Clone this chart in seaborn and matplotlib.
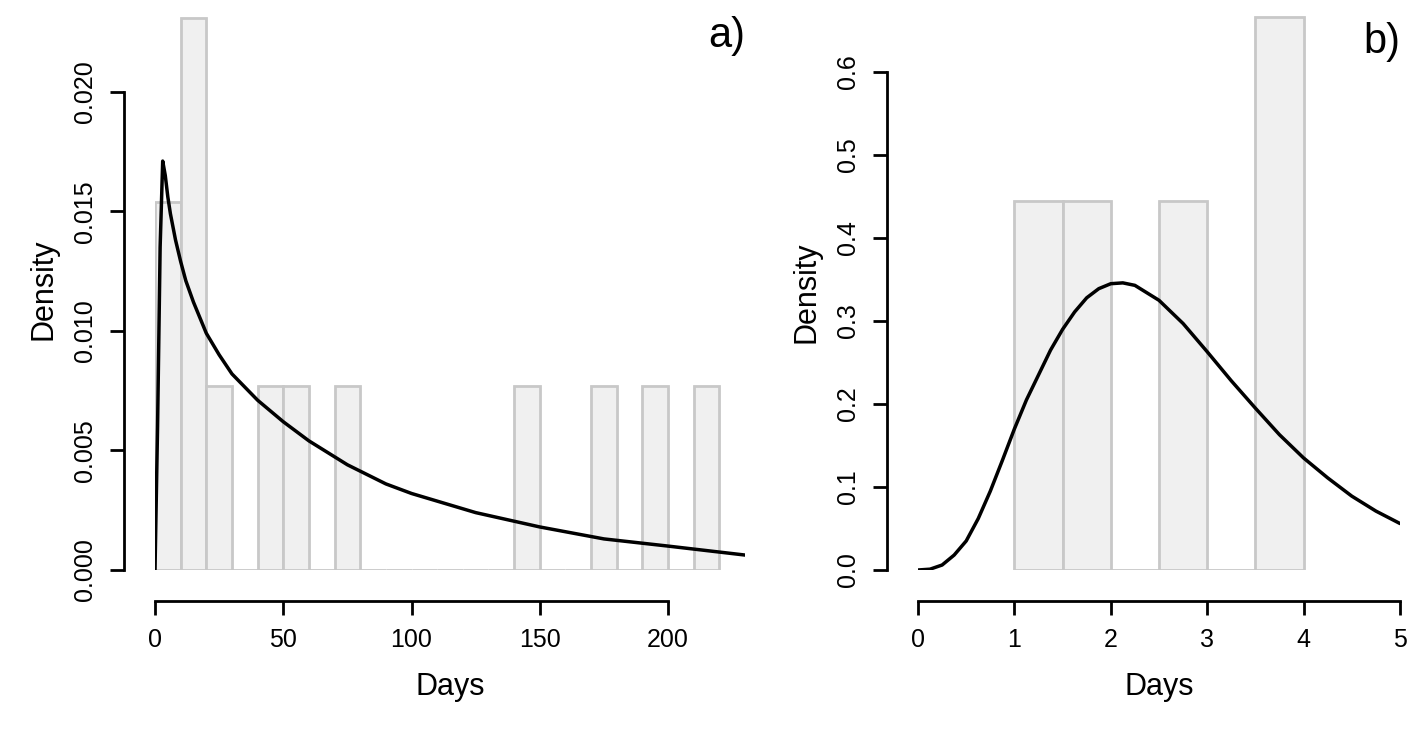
import numpy as np
import matplotlib
matplotlib.use("Agg")
import matplotlib.pyplot as plt
import seaborn as sns

# panel a: observations (days), bins of width 10
days_a = [5, 5, 15, 15, 15, 25, 45, 55, 75, 145, 175, 195, 215]
bins_a = np.arange(0, 230, 10)
curve_a_x = [0, 1, 2, 3, 4, 5, 6, 8, 10, 12, 15, 20, 25, 30, 40, 50, 60, 75, 90, 100,
             125, 150, 175, 200, 232]
curve_a_y = [0.0, 0.006, 0.0135, 0.0171, 0.0165, 0.0156, 0.0149, 0.0138, 0.0129, 0.0121,
             0.0112, 0.0099, 0.0090, 0.0082, 0.0071, 0.0062, 0.0054, 0.0044, 0.0036, 0.0032,
             0.0024, 0.0018, 0.0013, 0.0010, 0.0006]

# panel b: observations (days), bins of width 0.5
days_b = [1.25, 1.25, 1.75, 1.75, 2.75, 2.75, 3.75, 3.75, 3.75]
bins_b = np.arange(1.0, 4.5, 0.5)
curve_b_x = [0, 0.125, 0.25, 0.375, 0.5, 0.625, 0.75, 0.875, 1, 1.125, 1.25, 1.375, 1.5,
             1.625, 1.75, 1.875, 2, 2.125, 2.25, 2.5, 2.75, 3, 3.25, 3.5, 3.75, 4, 4.25,
             4.5, 4.75, 5]
curve_b_y = [0.0, 0.001, 0.006, 0.018, 0.035, 0.062, 0.095, 0.132, 0.17, 0.205, 0.235,
             0.265, 0.29, 0.311, 0.328, 0.339, 0.345, 0.346, 0.343, 0.325, 0.297,
             0.263, 0.228, 0.195, 0.163, 0.135, 0.111, 0.089, 0.071, 0.056]

sns.set_style("white")
plt.rcParams['font.family'] = ['Liberation Sans', 'DejaVu Sans']

W, H = 1427, 740
fig = plt.figure(figsize=(W / 100, H / 100), dpi=100)


def panel(rect_px, data, bins, cx, cy, xlim, ylim, xticks, yticks, ylabels, tag):
    l, r, b, t = rect_px
    ax = fig.add_axes([l / W, (H - b) / H, (r - l) / W, (b - t) / H])
    sns.histplot(x=data, bins=bins, stat='density', ax=ax, color='#f0f0f0',
                 edgecolor='#c8c8c8', linewidth=2, alpha=1)
    sns.lineplot(x=cx, y=cy, ax=ax, color='black', linewidth=2.5)
    ax.set_xlim(*xlim)
    ax.set_ylim(*ylim)
    for s in ['top', 'right']:
        ax.spines[s].set_visible(False)
    ax.spines['left'].set_position(('outward', 22))
    ax.spines['bottom'].set_position(('outward', 22))
    for s in ['left', 'bottom']:
        ax.spines[s].set_linewidth(2)
        ax.spines[s].set_color('black')
    ax.spines['left'].set_bounds(yticks[0], yticks[-1])
    ax.spines['bottom'].set_bounds(xticks[0], xticks[-1])
    ax.set_xticks(xticks)
    ax.set_yticks(yticks)
    ax.set_yticklabels(ylabels, rotation=90, va='center')
    ax.tick_params(axis='both', length=10, width=2, labelsize=18, colors='black', pad=10,
                   bottom=True, left=True)
    ax.set_xlabel('Days', fontsize=22, labelpad=14, color='black')
    ax.set_ylabel('Density', fontsize=22, labelpad=10, color='black')
    ax.text(1.0, 0.985, tag, transform=ax.transAxes, fontsize=30, ha='right', va='top',
            color='black')
    return ax


panel((155, 745, 570, 8), days_a, bins_a, curve_a_x, curve_a_y, (0, 230), (0, 0.0235),
      [0, 50, 100, 150, 200], [0, 0.005, 0.01, 0.015, 0.02],
      ['0.000', '0.005', '0.010', '0.015', '0.020'], 'a)')
panel((918, 1400, 570, 14), days_b, bins_b, curve_b_x, curve_b_y, (0, 5), (0, 0.67),
      [0, 1, 2, 3, 4, 5], [0, 0.1, 0.2, 0.3, 0.4, 0.5, 0.6],
      ['0.0', '0.1', '0.2', '0.3', '0.4', '0.5', '0.6'], 'b)')

fig.savefig('out.png', dpi=100)
